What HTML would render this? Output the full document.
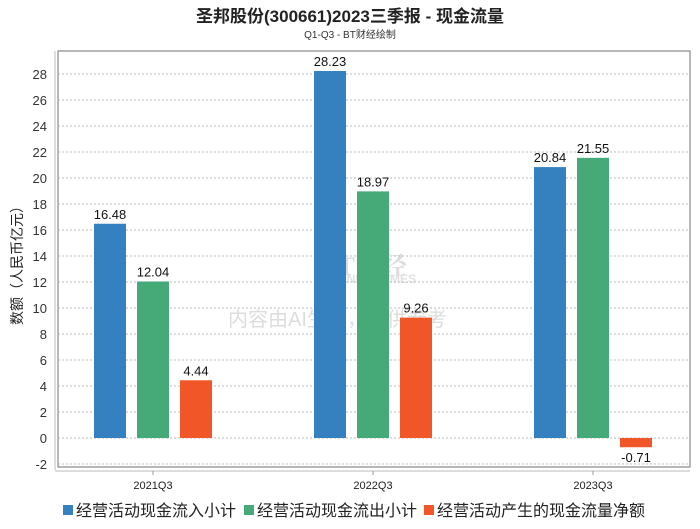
<!DOCTYPE html>
<html><head><meta charset="utf-8"><style>
body{margin:0;background:#fff;font-family:"Liberation Sans","Noto Sans CJK SC",sans-serif}
</style></head><body>
<svg width="700" height="524" xmlns="http://www.w3.org/2000/svg" font-family="Liberation Sans, Noto Sans CJK SC, sans-serif">
<text x="350" y="22" text-anchor="middle" font-size="17" font-weight="bold" fill="#222">圣邦股份(300661)2023三季报 - 现金流量</text>
<text x="350" y="38" text-anchor="middle" font-size="10" fill="#333">Q1-Q3 - BT财经绘制</text>
<g opacity="0.25">
<text x="320" y="275" font-size="26" font-family="Liberation Serif, Noto Serif CJK SC, serif" fill="#777" font-weight="bold">BT财经</text>
<text x="318" y="283" font-size="12" fill="#888" font-weight="bold">BUSINESSTIMES</text>
<text x="228" y="326" font-size="20" fill="#777">内容由AI生成，仅供参考</text>
</g>
<g id="plot"></g>
<g font-size="16" fill="#222">
<g><rect x="63" y="505" width="10" height="10" fill="#3581c0"/><text x="76" y="516">经营活动现金流入小计</text></g>
<g><rect x="244" y="505" width="10" height="10" fill="#45a978"/><text x="257" y="516">经营活动现金流出小计</text></g>
<g><rect x="424" y="505" width="10" height="10" fill="#f05628"/><text x="437" y="516">经营活动产生的现金流量净额</text></g>
</g>
</svg>
<script>
const categories=["2021Q3","2022Q3","2023Q3"];
const inflow=[16.48,28.23,20.84];
const outflow=[12.04,18.97,21.55];
const net=[4.44,9.26,-0.71];
const yTicks=[-2,0,2,4,6,8,10,12,14,16,18,20,22,24,26,28];
const NS="http://www.w3.org/2000/svg";
const g=document.getElementById('plot');
const L=58,R=690,T=51,B=467;
function y(v){return 438-v*13;}
function x(i){return 153+i*220;}
function el(t,a,p){const e=document.createElementNS(NS,t);for(const k in a)e.setAttribute(k,a[k]);(p||g).appendChild(e);return e;}
el('rect',{x:L,y:T,width:R-L,height:B-T,fill:'none',stroke:'#888','stroke-width':1.2});
el('line',{x1:55,y1:T,x2:55,y2:470,stroke:'#bbb'});
el('line',{x1:55,y1:471,x2:690,y2:471,stroke:'#bbb'});
yTicks.forEach(v=>{
 const gl=el('line',{x1:L,x2:R,y1:y(v),y2:y(v),stroke:'#bbb','stroke-dasharray':'2,2'});
 
 
 const t=el('text',{x:47,y:y(v)+5,'text-anchor':'end','font-size':13,fill:'#333'});t.textContent=v;
 
 
});
const yt=el('text',{transform:'translate(22,262) rotate(-90)','text-anchor':'middle','font-size':14,fill:'#222'});yt.textContent='数额（人民币亿元）';


categories.forEach((c,i)=>{
 el('line',{x1:x(i),x2:x(i),y1:471,y2:475,stroke:'#999'});
 const t=el('text',{x:x(i),y:489,'text-anchor':'middle','font-size':11,fill:'#222'});t.textContent=c;
 
 
});
const series=[[inflow,'#3581c0',-43,'bar-inflow'],[outflow,'#45a978',0,'bar-outflow'],[net,'#f05628',43,'bar-net']];
series.forEach(([vals,col,off,name])=>{
 vals.forEach((v,i)=>{
  const cx=x(i)+off, y0=y(0), yv=y(v);
  const r=el('rect',{x:cx-16,y:Math.min(y0,yv),width:32,height:Math.abs(yv-y0),fill:col});
  
  
  const ly=v>=0?yv-5:yv+15;
  const t=el('text',{x:cx,y:ly,'text-anchor':'middle','font-size':13,fill:'#111'});t.textContent=v.toFixed(2);
  
  
 });
});
</script>
</body></html>
